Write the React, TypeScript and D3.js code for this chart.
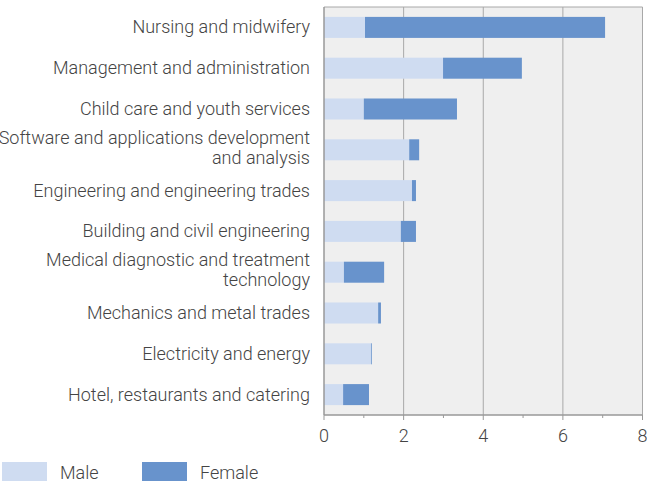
import React from "react";
import * as d3 from "d3";

const categories: string[][] = [
  ["Nursing and midwifery"],
  ["Management and administration"],
  ["Child care and youth services"],
  ["Software and applications development", "and analysis"],
  ["Engineering and engineering trades"],
  ["Building and civil engineering"],
  ["Medical diagnostic and treatment", "technology"],
  ["Mechanics and metal trades"],
  ["Electricity and energy"],
  ["Hotel, restaurants and catering"],
];
const maleValues = [1.03, 2.99, 1.0, 2.14, 2.21, 1.93, 0.5, 1.36, 1.18, 0.48];
const femaleValues = [6.03, 1.98, 2.34, 0.25, 0.1, 0.38, 1.01, 0.07, 0.02, 0.65];
const xTicks = [0, 2, 4, 6, 8];
const xMinorTicks = [1, 3, 5, 7];
const seriesNames = ["Male", "Female"];
const colors = ["#cfdcf1", "#6893cc"];

const W = 647;
const H = 481;
const left = 324;
const right = 642.5;
const top = 7;
const bottom = 415;
const font = "Roboto, sans-serif";
const textColor = "#444";
const fs = 18;

export default function App() {
  const x = d3.scaleLinear().domain([0, 8]).range([left, right]);
  const keys = categories.map((_, i) => String(i));
  const y = d3.scaleBand().domain(keys).range([top, bottom]).paddingInner(0.485).paddingOuter(0.2425);

  return (
    <svg width={W} height={H} style={{ position: "absolute", left: 0, top: 0 }}>
      <rect x={left} y={top} width={right - left} height={bottom - top} fill="#efefef" />
      {xTicks.slice(1).map((t) => (
        <line key={t} x1={x(t)} x2={x(t)} y1={top} y2={bottom} stroke="#a8a8a8" strokeWidth={1} />
      ))}
      <line x1={left} x2={right} y1={top} y2={top} stroke="#a8a8a8" strokeWidth={1} />
      {keys.map((k, i) => {
        const y0 = y(k)!;
        const m = maleValues[i];
        const f = femaleValues[i];
        return (
          <g key={k}>
            <rect x={x(0)} y={y0} width={x(m) - x(0)} height={y.bandwidth()} fill={colors[0]} />
            <rect x={x(m)} y={y0} width={x(m + f) - x(m)} height={y.bandwidth()} fill={colors[1]} />
          </g>
        );
      })}
      <line x1={left} x2={left} y1={top} y2={bottom} stroke="#999" strokeWidth={1.5} />
      <line x1={left} x2={right} y1={bottom} y2={bottom} stroke="#999" strokeWidth={1.5} />
      {xTicks.map((t) => (
        <g key={t}>
          <line x1={x(t)} x2={x(t)} y1={bottom} y2={bottom + 5} stroke="#999" strokeWidth={1} />
          <text x={x(t)} y={442} textAnchor="middle" fontFamily={font} fontWeight={300} fontSize={fs} fill={textColor}>
            {t}
          </text>
        </g>
      ))}
      {xMinorTicks.map((t) => (
        <line key={t} x1={x(t)} x2={x(t)} y1={bottom} y2={bottom + 3} stroke="#999" strokeWidth={1} />
      ))}
      {categories.map((lines, i) => {
        const cy = y(keys[i])! + y.bandwidth() / 2;
        const lh = 20;
        const startY = cy - ((lines.length - 1) * lh) / 2 + 6;
        return (
          <text key={i} textAnchor="end" fontFamily={font} fontWeight={300} fontSize={fs} fill={textColor}>
            {lines.map((l, j) => (
              <tspan key={j} x={310} y={startY + j * lh - (lines.length > 1 ? 2 : 0)}>
                {l}
              </tspan>
            ))}
          </text>
        );
      })}
      {seriesNames.map((s, i) => (
        <g key={s}>
          <rect x={2 + i * 140} y={462} width={45} height={19} fill={colors[i]} />
          <text x={60 + i * 140} y={478.5} fontFamily={font} fontWeight={300} fontSize={fs} fill={textColor}>
            {s}
          </text>
        </g>
      ))}
    </svg>
  );
}
